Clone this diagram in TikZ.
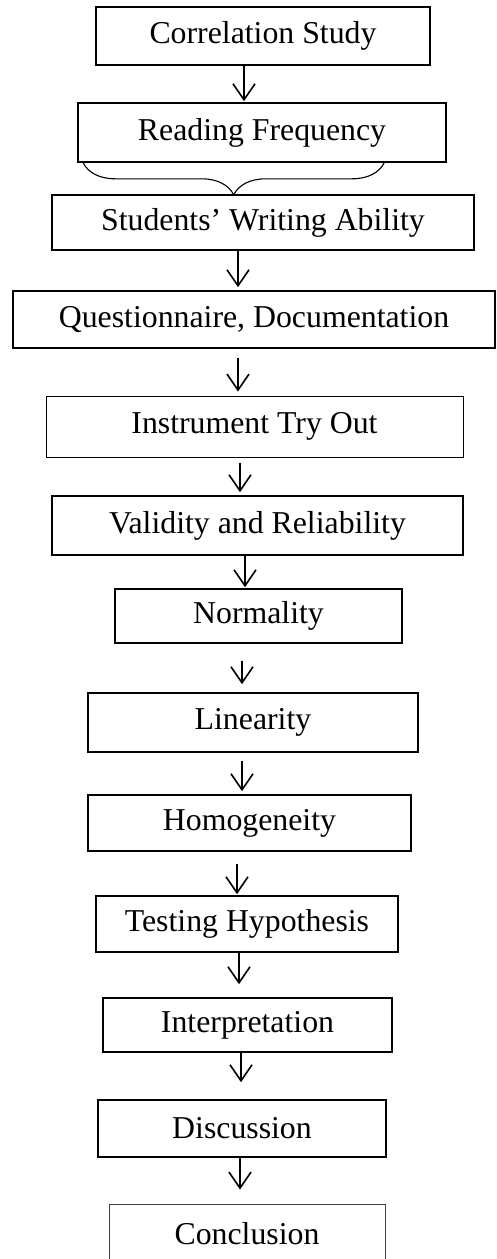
\documentclass[tikz,border=0pt]{standalone}
\usepackage{fontspec}
\setmainfont{Liberation Serif}
\usetikzlibrary{arrows.meta, decorations.pathreplacing}

\begin{document}
\begin{tikzpicture}[x=1pt, y=-1pt,
    box/.style={draw, line width=1.6pt, inner sep=0pt, align=center,
      font=\fontsize{31.8}{38}\selectfont},
    thinbox/.style={box, line width=1pt},
    flow/.style={line width=1.6pt, -{Straight Barb[length=16pt, width=22pt]}}]
  \clip (0,0) rectangle (496,1259);
  % --- Variabler ---
  \node[box, minimum width=334pt, minimum height=58pt] (corr) at (263,36) {Correlation Study};
  \node[box, minimum width=368pt, minimum height=59pt] (read) at (262,132.5) {Reading Frequency};
  \node[box, minimum width=422pt, minimum height=55pt] (write) at (263,222.5) {Students’ Writing Ability};
  % brace under reading frequency
  \draw[line width=1.1pt, decorate, decoration={brace, amplitude=32pt, aspect=0.5}]
    ([xshift=307pt]read.south west) -- ([xshift=6pt]read.south west);
  % --- Instrument ---
  \node[box, minimum width=482pt, minimum height=57pt] (quest) at (254,319.5) {Questionnaire, Documentation};
  \node[thinbox, minimum width=417pt, minimum height=61pt] (tryout) at (254.5,426.5) {Instrument Try Out};
  \node[box, minimum width=411pt, minimum height=59pt] (valid) at (257.5,525.5) {Validity and Reliability};
  % --- Analyse ---
  \node[box, minimum width=287pt, minimum height=54pt] (norm) at (258.5,616) {Normality};
  \node[box, minimum width=330pt, minimum height=59pt] (lin) at (253,722.5) {Linearity};
  \node[box, minimum width=323pt, minimum height=56pt] (homog) at (249.5,823) {Homogeneity};
  \node[box, minimum width=302pt, minimum height=56pt] (hypo) at (247,924) {Testing Hypothesis};
  \node[box, minimum width=289pt, minimum height=54pt] (interp) at (247.5,1025) {Interpretation};
  \node[box, minimum width=288pt, minimum height=57pt] (disc) at (242,1128.5) {Discussion};
  \node[thinbox, draw=black!75, minimum width=276pt, minimum height=60pt] (concl) at (247,1234) {Conclusion};
  % Arrows
  \foreach \a/\b/\x/\s/\e in {corr/read/244/0/1, write/quest/238/0/3, quest/tryout/238/9/4,
      tryout/valid/240/5/3, valid/norm/245/0/1, norm/lin/242/17/8, lin/homog/242/8/3,
      homog/hypo/237/12/1, hypo/interp/239/0/13, interp/disc/241/0/17, disc/concl/240/0/14}
    \draw[flow, shorten <=\s pt, shorten >=\e pt] (\a.south -| \x,0) -- (\b.north -| \x,0);
\end{tikzpicture}
\end{document}
